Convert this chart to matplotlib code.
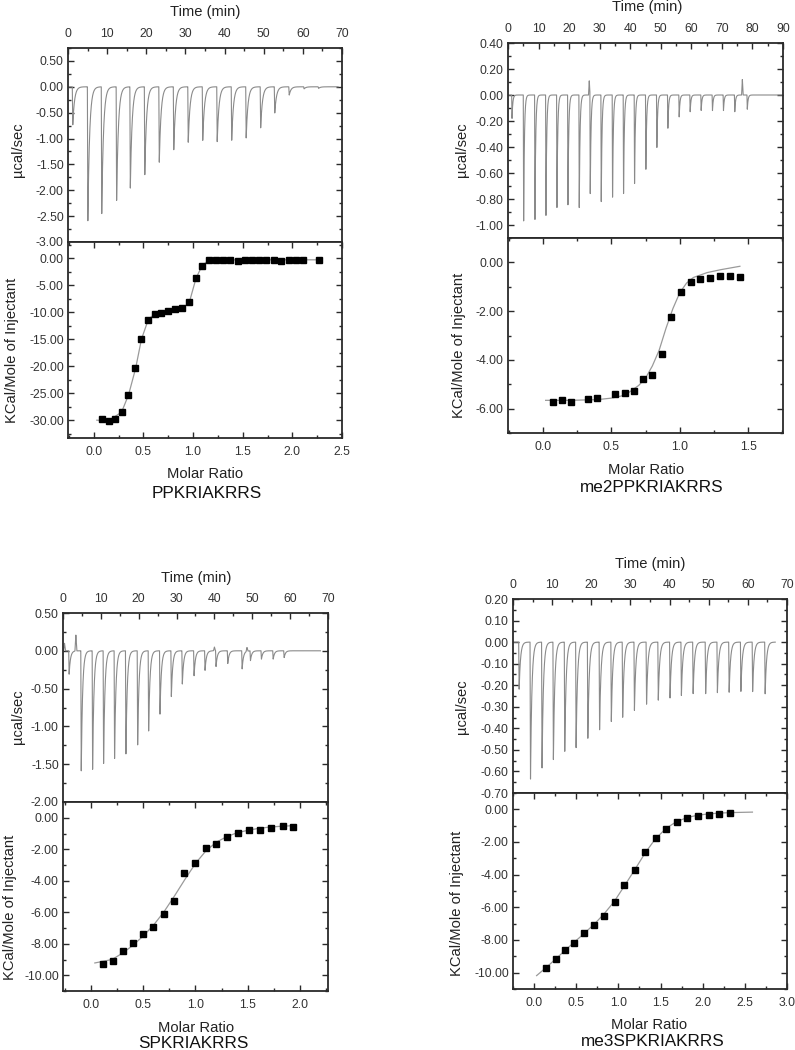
import numpy as np
import matplotlib
matplotlib.use('Agg')
import matplotlib.pyplot as plt
from matplotlib.ticker import MultipleLocator, FormatStrFormatter

plt.rcParams['font.family'] = ['Liberation Sans', 'DejaVu Sans']

W, H = 795, 1050

# ---------------- data ----------------
peptides = ['PPKRIAKRRS', 'me2PPKRIAKRRS', 'SPKRIAKRRS', 'me3SPKRIAKRRS']

# Panel 1 raw thermogram (injection time, min / peak height, ucal/sec)
p1_inj_time = [1.1, 4.95, 8.5, 12.3, 15.8, 19.5, 23.2, 26.9, 30.6, 34.3, 38.0, 41.7,
               45.4, 49.1, 52.7, 56.4, 60.2, 63.9]
p1_inj_height = [-0.74, -2.60, -2.45, -2.20, -1.97, -1.70, -1.47, -1.22, -1.08, -1.04,
                 -1.06, -1.04, -0.99, -0.80, -0.51, -0.16, -0.04, -0.03]
p1_spike_time = []
p1_spike_height = []
p1_end_time = 69.0

# Panel 1 integrated heats
p1_ratio = [0.084, 0.148, 0.215, 0.279, 0.343, 0.41, 0.48, 0.548, 0.612, 0.679, 0.746,
            0.813, 0.887, 0.958, 1.025, 1.092, 1.163, 1.233, 1.304, 1.374, 1.448, 1.519,
            1.59, 1.663, 1.734, 1.811, 1.888, 1.962, 2.036, 2.11, 2.268]
p1_heat = [-29.75, -30.2, -29.75, -28.4, -25.4, -20.4, -14.9, -11.4, -10.3, -10.1, -9.75,
           -9.44, -9.26, -8.2, -3.7, -1.36, -0.37, -0.37, -0.37, -0.25, -0.43, -0.25,
           -0.25, -0.25, -0.37, -0.25, -0.6, -0.37, -0.25, -0.25, -0.37]
p1_fit_x = [0.03, 0.15, 0.28, 0.35, 0.42, 0.48, 0.55, 0.61, 0.75, 0.89, 0.96, 1.03, 1.09,
            1.16, 1.5, 2.0, 2.27]
p1_fit_y = [-30.0, -30.1, -28.5, -25.3, -20.5, -15.0, -11.3, -10.4, -9.8, -9.25, -8.3,
            -3.7, -1.4, -0.35, -0.3, -0.3, -0.3]

# Panel 2 raw thermogram
p2_inj_time = [1.2, 5.0, 8.7, 12.3, 15.9, 19.5, 23.2, 26.8, 30.4, 34.1, 37.7, 41.3, 45.0,
               48.6, 52.2, 55.9, 59.5, 63.1, 66.8, 70.4, 74.1, 78.2]
p2_inj_height = [-0.18, -0.98, -0.96, -0.93, -0.87, -0.85, -0.87, -0.76, -0.82, -0.80,
                 -0.77, -0.69, -0.58, -0.41, -0.26, -0.17, -0.13, -0.12, -0.12, -0.12,
                 -0.13, -0.11]
p2_spike_time = [26.6, 76.7]
p2_spike_height = [0.11, 0.12]
p2_end_time = 90.0

p2_ratio = [0.076, 0.139, 0.203, 0.33, 0.396, 0.528, 0.597, 0.663, 0.734, 0.80, 0.869,
            0.94, 1.01, 1.079, 1.15, 1.223, 1.292, 1.365, 1.441]
p2_heat = [-5.71, -5.66, -5.73, -5.59, -5.58, -5.38, -5.37, -5.27, -4.79, -4.64, -3.74,
           -2.23, -1.22, -0.82, -0.67, -0.66, -0.56, -0.56, -0.60]
p2_fit_x = [0.02, 0.2, 0.4, 0.5, 0.6, 0.7, 0.75, 0.8, 0.85, 0.9, 0.95, 1.0, 1.05, 1.1,
            1.2, 1.3, 1.44]
p2_fit_y = [-5.66, -5.66, -5.63, -5.57, -5.45, -5.05, -4.75, -4.25, -3.6, -2.7, -1.9,
            -1.25, -0.85, -0.62, -0.42, -0.3, -0.16]

# Panel 3 raw thermogram
p3_inj_time = [1.5, 4.7, 7.7, 10.6, 13.5, 16.5, 19.6, 22.5, 25.5, 28.5, 31.4, 34.5,
               37.4, 40.3, 43.4, 47.2, 49.4, 52.3, 55.4, 58.3]
p3_inj_height = [-0.31, -1.60, -1.57, -1.50, -1.44, -1.37, -1.25, -1.07, -0.84, -0.61,
                 -0.44, -0.33, -0.26, -0.21, -0.17, -0.24, -0.13, -0.11, -0.11, -0.09]
p3_spike_time = [0.4, 3.4, 40.0, 48.6]
p3_spike_height = [0.10, 0.21, 0.05, 0.05]
p3_end_time = 68.0

p3_ratio = [0.118, 0.213, 0.306, 0.398, 0.5, 0.596, 0.694, 0.79, 0.892, 0.994, 1.099,
            1.2, 1.306, 1.411, 1.513, 1.618, 1.726, 1.834, 1.939]
p3_heat = [-9.31, -9.07, -8.44, -7.94, -7.41, -6.91, -6.13, -5.31, -3.49, -2.88, -1.94,
           -1.64, -1.24, -0.95, -0.76, -0.78, -0.63, -0.53, -0.57]
p3_fit_x = [0.035, 0.2, 0.3, 0.4, 0.5, 0.6, 0.7, 0.8, 0.9, 1.0, 1.1, 1.2, 1.3, 1.4, 1.5,
            1.6, 1.7, 1.8, 1.94]
p3_fit_y = [-9.22, -9.0, -8.6, -8.1, -7.5, -6.8, -5.95, -4.95, -3.9, -2.9, -2.1, -1.55,
            -1.2, -0.95, -0.8, -0.68, -0.6, -0.55, -0.5]

# Panel 4 raw thermogram
p4_inj_time = [1.45, 4.35, 7.3, 10.2, 13.1, 16.0, 19.0, 22.0, 25.0, 27.9, 30.9, 34.0,
               37.0, 40.0, 42.9, 45.9, 49.1, 52.1, 55.1, 58.1, 61.1, 64.3]
p4_inj_height = [-0.22, -0.64, -0.585, -0.55, -0.51, -0.49, -0.45, -0.41, -0.37, -0.35,
                 -0.32, -0.29, -0.27, -0.26, -0.25, -0.24, -0.24, -0.235, -0.235, -0.23,
                 -0.23, -0.24]
p4_spike_time = []
p4_spike_height = []
p4_end_time = 67.0

p4_ratio = [0.139, 0.257, 0.364, 0.479, 0.59, 0.712, 0.831, 0.954, 1.072, 1.199, 1.318,
            1.444, 1.567, 1.69, 1.816, 1.943, 2.07, 2.196, 2.327]
p4_heat = [-9.73, -9.18, -8.59, -8.18, -7.56, -7.09, -6.5, -5.7, -4.65, -3.69, -2.64,
           -1.78, -1.19, -0.78, -0.55, -0.43, -0.37, -0.29, -0.2]
p4_fit_x = [0.03, 0.14, 0.26, 0.37, 0.48, 0.6, 0.72, 0.83, 0.95, 1.07, 1.2, 1.32, 1.44,
            1.57, 1.69, 1.82, 1.94, 2.07, 2.2, 2.33, 2.59]
p4_fit_y = [-10.18, -9.7, -9.15, -8.62, -8.12, -7.57, -7.0, -6.4, -5.65, -4.7, -3.65,
            -2.65, -1.8, -1.15, -0.75, -0.5, -0.36, -0.28, -0.23, -0.2, -0.17]

# ---------------- layout / style ----------------
panels = [
    dict(raw=(p1_inj_time, p1_inj_height, p1_spike_time, p1_spike_height, p1_end_time),
         itc=(p1_ratio, p1_heat, p1_fit_x, p1_fit_y),
         box=(68, 48, 342, 242, 438), tlim=(0, 70), traw=(-3.0, 0.75), rmaj=0.5, rmin=0.25,
         xr=(-0.26, 2.5), xrmaj=0.5, xrmin=0.25, yi=(-33.3, 3.0), yimaj=5, yimin=2.5,
         tau=0.45, time_lbl=(205, 12), ylab_top=(18, 150), ylab_bot=(12, 350),
         molar=(205, 474), name=(207, 494)),
    dict(raw=(p2_inj_time, p2_inj_height, p2_spike_time, p2_spike_height, p2_end_time),
         itc=(p2_ratio, p2_heat, p2_fit_x, p2_fit_y),
         box=(508, 43, 783, 238, 433), tlim=(0, 90), traw=(-1.1, 0.4), rmaj=0.2, rmin=0.1,
         xr=(-0.255, 1.755), xrmaj=0.5, xrmin=0.25, yi=(-7.0, 1.0), yimaj=2, yimin=1,
         tau=0.25, time_lbl=(647, 7), ylab_top=(462, 150), ylab_bot=(459, 345),
         molar=(646, 470), name=(652, 488)),
    dict(raw=(p3_inj_time, p3_inj_height, p3_spike_time, p3_spike_height, p3_end_time),
         itc=(p3_ratio, p3_heat, p3_fit_x, p3_fit_y),
         box=(63, 613, 328, 802, 991), tlim=(0, 70), traw=(-2.0, 0.5), rmaj=0.5, rmin=0.25,
         xr=(-0.27, 2.27), xrmaj=0.5, xrmin=0.25, yi=(-11.0, 1.0), yimaj=2, yimin=1,
         tau=0.35, time_lbl=(196, 578), ylab_top=(18, 717), ylab_bot=(10, 907),
         molar=(196, 1028), name=(193, 1043)),
    dict(raw=(p4_inj_time, p4_inj_height, p4_spike_time, p4_spike_height, p4_end_time),
         itc=(p4_ratio, p4_heat, p4_fit_x, p4_fit_y),
         box=(513, 599, 787, 793, 989), tlim=(0, 70), traw=(-0.7, 0.2), rmaj=0.1, rmin=0.05,
         xr=(-0.25, 3.0), xrmaj=0.5, xrmin=0.25, yi=(-11.0, 1.0), yimaj=2, yimin=1,
         tau=0.35, time_lbl=(650, 564), ylab_top=(462, 707), ylab_bot=(457, 903),
         molar=(649, 1025), name=(653, 1041)),
]

SPINE = '#2a2a2a'
TRACE = '#8a8a8a'
TICKFS = 8.8
LABFS = 10.6
NAMEFS = 12.3

fig = plt.figure(figsize=(W / 100, H / 100), dpi=100)


def px_axes(x0, y0, x1, y1):
    return fig.add_axes([x0 / W, 1 - y1 / H, (x1 - x0) / W, (y1 - y0) / H])


def style(ax):
    for s in ax.spines.values():
        s.set_color(SPINE)
        s.set_linewidth(1.3)
    ax.tick_params(which='both', direction='in', color=SPINE, labelcolor='#333333',
                   labelsize=TICKFS, width=1.0)
    ax.tick_params(which='major', length=4.5)
    ax.tick_params(which='minor', length=2.5)


def thermogram(inj_t, inj_h, sp_t, sp_h, t_end, tau):
    t = np.linspace(0, t_end, 12000)
    y = np.zeros_like(t)
    d = 0.12
    for ti, hi in zip(inj_t, inj_h):
        fall = (t >= ti) & (t < ti + d)
        y[fall] += hi * (t[fall] - ti) / d
        rec = t >= ti + d
        y[rec] += hi * np.exp(-(t[rec] - ti - d) / tau)
    for ti, hi in zip(sp_t, sp_h):
        w = 0.25
        m = np.abs(t - ti) < w
        y[m] += hi * (1 - np.abs(t[m] - ti) / w)
    return t, y


for p in panels:
    x0, y0, x1, ymid, y1 = p['box']
    # --- raw data axes ---
    ax = px_axes(x0, y0, x1, ymid)
    style(ax)
    t, y = thermogram(*p['raw'], p['tau'])
    ax.plot(t, y, color=TRACE, lw=0.8)
    ax.set_xlim(*p['tlim'])
    ax.set_ylim(*p['traw'])
    ax.xaxis.set_major_locator(MultipleLocator(10))
    ax.xaxis.set_minor_locator(MultipleLocator(5))
    ax.yaxis.set_major_locator(MultipleLocator(p['rmaj']))
    ax.yaxis.set_minor_locator(MultipleLocator(p['rmin']))
    ax.xaxis.set_major_formatter(FormatStrFormatter('%d'))
    ax.yaxis.set_major_formatter(FormatStrFormatter('%.2f'))
    ax.tick_params(axis='x', which='both', top=True, bottom=False, labeltop=True,
                   labelbottom=False, pad=6)
    ax.tick_params(axis='y', which='both', left=True, right=True, labelleft=True, pad=3)

    # --- integrated heats axes ---
    bx = px_axes(x0, ymid, x1, y1)
    style(bx)
    r, q, fx, fy = p['itc']
    bx.plot(fx, fy, color='#9a9a9a', lw=0.9, zorder=2)
    bx.plot(r, q, ls='none', marker='s', ms=5.0, color='black', zorder=3)
    bx.set_xlim(*p['xr'])
    bx.set_ylim(*p['yi'])
    bx.xaxis.set_major_locator(MultipleLocator(p['xrmaj']))
    bx.xaxis.set_minor_locator(MultipleLocator(p['xrmin']))
    bx.yaxis.set_major_locator(MultipleLocator(p['yimaj']))
    bx.yaxis.set_minor_locator(MultipleLocator(p['yimin']))
    bx.xaxis.set_major_formatter(FormatStrFormatter('%.1f'))
    bx.yaxis.set_major_formatter(FormatStrFormatter('%.2f'))
    bx.tick_params(axis='x', which='both', top=True, bottom=True, pad=6)
    bx.tick_params(axis='y', which='both', left=True, right=True, pad=3)

    # --- texts ---
    tx, ty = p['time_lbl']
    fig.text(tx / W, 1 - ty / H, 'Time (min)', ha='center', va='center', fontsize=LABFS,
             color='#222222')
    lx, ly = p['ylab_top']
    fig.text(lx / W, 1 - ly / H, 'µcal/sec', ha='center', va='center', rotation=90,
             fontsize=LABFS, color='#222222')
    lx, ly = p['ylab_bot']
    fig.text(lx / W, 1 - ly / H, 'KCal/Mole of Injectant', ha='center', va='center',
             rotation=90, fontsize=LABFS, color='#222222')
    mx, my = p['molar']
    fig.text(mx / W, 1 - my / H, 'Molar Ratio', ha='center', va='center', fontsize=LABFS,
             color='#222222')

for p, nm in zip(panels, peptides):
    nx, ny = p['name']
    fig.text(nx / W, 1 - ny / H, nm, ha='center', va='center', fontsize=NAMEFS,
             color='#111111')

fig.savefig('out.png', dpi=100, facecolor='white')
